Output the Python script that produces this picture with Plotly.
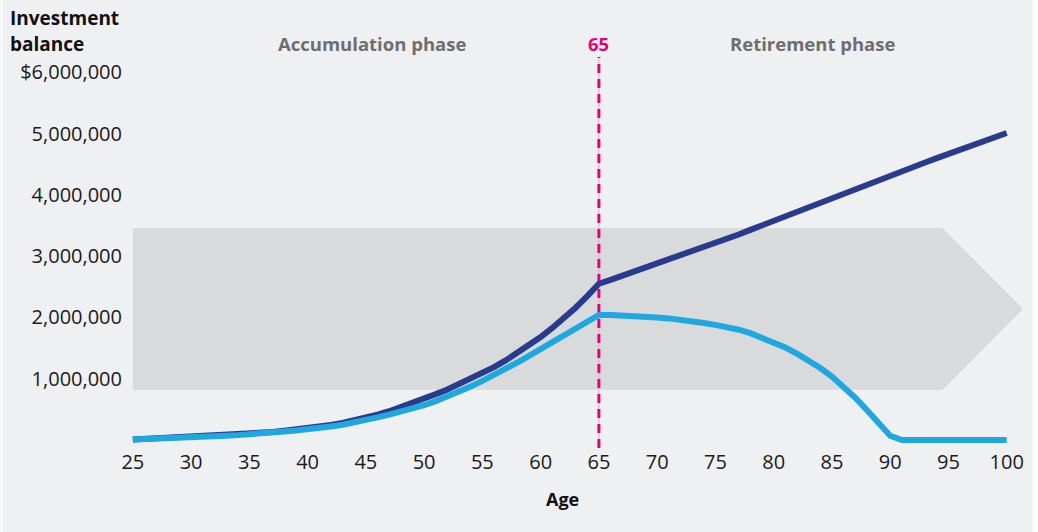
import plotly.graph_objects as go

ages = list(range(25, 101))

# Investment balance, millions of dollars
higher_balance = [
    0.01, 0.02, 0.025, 0.03, 0.035, 0.04, 0.05, 0.06, 0.07, 0.085,
    0.10, 0.115, 0.13, 0.15, 0.17, 0.19, 0.215, 0.245, 0.28, 0.32,
    0.365, 0.415, 0.47, 0.535, 0.605, 0.68, 0.75, 0.825, 0.91, 1.0,
    1.09, 1.19, 1.30, 1.42, 1.55, 1.68, 1.83, 1.99, 2.16, 2.35,
    2.55, 2.615, 2.68, 2.745, 2.81, 2.875, 2.94, 3.005, 3.07, 3.14,
    3.21, 3.28, 3.355, 3.43, 3.505, 3.58, 3.655, 3.73, 3.805, 3.88,
    3.955, 4.03, 4.105, 4.18, 4.25, 4.32, 4.39, 4.46, 4.53, 4.60,
    4.67, 4.74, 4.81, 4.88, 4.945, 5.01,
]
lower_balance = [
    0.01, 0.015, 0.02, 0.025, 0.03, 0.04, 0.05, 0.06, 0.07, 0.08,
    0.09, 0.105, 0.12, 0.14, 0.155, 0.17, 0.195, 0.22, 0.25, 0.285,
    0.325, 0.37, 0.415, 0.46, 0.51, 0.57, 0.635, 0.71, 0.79, 0.875,
    0.965, 1.06, 1.16, 1.265, 1.375, 1.49, 1.60, 1.71, 1.82, 1.93,
    2.04, 2.04, 2.035, 2.025, 2.015, 2.0, 1.985, 1.965, 1.94, 1.91,
    1.88, 1.845, 1.80, 1.745, 1.675, 1.60, 1.51, 1.41, 1.30, 1.175,
    1.035, 0.875, 0.69, 0.49, 0.28, 0.07, 0.0, 0.0, 0.0, 0.0,
    0.0, 0.0, 0.0, 0.0, 0.0, 0.0,
]

x_ticks = list(range(25, 101, 5))
y_ticks = [1, 2, 3, 4, 5, 6]
y_tick_text = ["1,000,000", "2,000,000", "3,000,000", "4,000,000", "5,000,000", "$6,000,000"]

retirement_age = 65
band_low, band_high = 0.82, 3.46
band_end, band_tip = 94.5, 101.4

FONT = "Open Sans"
BG = "#eff0f2"
DARK = "#283b8c"
LIGHT = "#1fa8e0"
PINK = "#e6007e"

# plot area geometry (pixels) used to place paper-referenced labels
PLOT_BOTTOM = 532 - 83.5
PLOT_H = 532 - 54 - 83.5


def py(pixel_y):
    return (PLOT_BOTTOM - pixel_y) / PLOT_H


fig = go.Figure()
fig.add_trace(go.Scatter(x=ages, y=higher_balance, mode="lines",
                         line=dict(color=DARK, width=6), hoverinfo="skip"))
fig.add_trace(go.Scatter(x=ages, y=lower_balance, mode="lines",
                         line=dict(color=LIGHT, width=6), hoverinfo="skip"))

mid = (band_low + band_high) / 2
fig.add_shape(type="path", xref="x", yref="y", layer="below",
              path=f"M {ages[0]},{band_high} L {band_end},{band_high} L {band_tip},{mid} "
                   f"L {band_end},{band_low} L {ages[0]},{band_low} Z",
              fillcolor="#d9dadc", line=dict(width=0))
fig.add_shape(type="line", xref="x", yref="y", layer="below",
              x0=retirement_age, x1=retirement_age, y0=-0.13, y1=6.25,
              line=dict(color="#f0a0cc", width=1))
fig.add_shape(type="line", xref="x", yref="y", layer="below",
              x0=retirement_age, x1=retirement_age, y0=-0.13, y1=6.25,
              line=dict(color=PINK, width=3, dash="9px,6px"))
# edge strips
fig.add_shape(type="rect", xref="paper", yref="paper", x0=1.003, x1=1.05, y0=-0.3, y1=1.3,
              fillcolor="white", line=dict(width=0), layer="below")
fig.add_shape(type="rect", xref="paper", yref="paper", x0=-0.2, x1=-0.1375, y0=-0.3, y1=1.3,
              fillcolor="#f6f7f8", line=dict(width=0), layer="below")

fig.add_annotation(xref="paper", yref="paper", x=-0.1318, y=py(18), xanchor="left",
                   yanchor="middle", text="<b>Investment</b>", showarrow=False,
                   font=dict(family=FONT, size=19, color="#111"))
fig.add_annotation(xref="paper", yref="paper", x=-0.1318, y=py(44), xanchor="left",
                   yanchor="middle", text="<b>balance</b>", showarrow=False,
                   font=dict(family=FONT, size=19, color="#111"))
fig.add_annotation(xref="x", yref="paper", x=45.5, y=py(43), yanchor="middle", text="<b>Accumulation phase</b>",
                   showarrow=False, font=dict(family=FONT, size=18.5, color="#6e6e70"))
fig.add_annotation(xref="x", yref="paper", x=83.3, y=py(43), yanchor="middle", text="<b>Retirement phase</b>",
                   showarrow=False, font=dict(family=FONT, size=18.5, color="#6e6e70"))
fig.add_annotation(xref="x", yref="paper", x=retirement_age, y=py(43), yanchor="middle",
                   text=f"<b>{retirement_age}</b>",
                   showarrow=False, font=dict(family=FONT, size=18.5, color=PINK))
fig.add_annotation(xref="x", yref="paper", x=61.9, y=py(500), yanchor="middle",
                   text="<b>Age</b>", showarrow=False,
                   font=dict(family=FONT, size=18, color="#111"))

fig.update_layout(
    width=1038, height=532,
    margin=dict(l=127, r=8, t=54, b=83.5),
    paper_bgcolor=BG, plot_bgcolor=BG,
    showlegend=False,
    font=dict(family=FONT, size=20, color="#1a1a1a"),
    xaxis=dict(range=[24.5, 102], tickvals=x_ticks, showgrid=False, zeroline=False,
               showline=False, ticks="", tickfont=dict(size=20)),
    yaxis=dict(range=[-0.13, 6.3], tickvals=y_ticks, ticktext=y_tick_text, showgrid=False,
               zeroline=False, showline=False, ticks="", tickfont=dict(size=20),
               ticklabelstandoff=4),
)

fig.write_html("out.html", config={"displayModeBar": False},
               post_script="document.body.style.margin='0';")
